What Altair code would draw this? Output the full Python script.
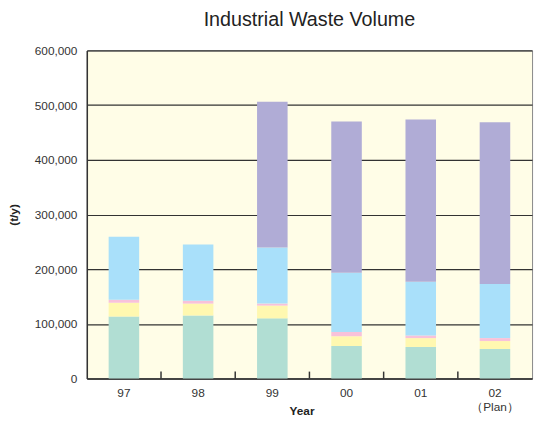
import altair as alt
import pandas as pd

years = ["97", "98", "99", "00", "01", "02"]
categories = ["Cat A", "Cat B", "Cat C", "Cat D", "Cat E"]
colors = ["#B1DED3", "#FFF8B0", "#F8C2DA", "#A9E0FA", "#B0ACD6"]
cat_a = [113500, 115300, 110000, 59500, 57700, 54000]
cat_b = [25200, 21700, 23300, 18000, 16200, 14500]
cat_c = [5300, 5300, 3700, 7700, 4800, 5400]
cat_d = [115500, 102700, 102600, 108100, 98400, 99100]
cat_e = [0, 0, 266700, 277000, 296800, 295500]

series = [cat_a, cat_b, cat_c, cat_d, cat_e]
rows = []
for ci, (cat, vals) in enumerate(zip(categories, series)):
    for y, v in zip(years, vals):
        rows.append({"year": y, "category": cat, "order": ci, "value": v})
df = pd.DataFrame(rows)

xenc = alt.X("year:N", sort=years, scale=alt.Scale(paddingInner=0, paddingOuter=0),
             axis=alt.Axis(title="Year", labelAngle=0, ticks=False, domain=True,
                           domainColor="#333", domainWidth=1.5,
                           labelFont="Liberation Sans", labelFontSize=12, labelColor="#333",
                           labelPadding=9, labelLineHeight=14,
                           labelExpr="datum.label == '02' ? ['02', '（Plan）'] : datum.label",
                           titleFont="Liberation Sans", titleFontSize=12, titleFontWeight="bold",
                           titleColor="#222", titleY=28, titleX=218))

bars = alt.Chart(df).mark_bar(size=31).encode(
    x=xenc,
    y=alt.Y("value:Q", stack="zero", scale=alt.Scale(domain=[0, 600000]),
            axis=alt.Axis(title="(t/y)", format=",.0f", values=[0, 100000, 200000, 300000, 400000, 500000, 600000],
                          ticks=False, domain=True, domainColor="#333", domainWidth=1.5,
                          grid=True, gridColor="#333", gridWidth=1.2,
                          labelFont="Liberation Sans", labelFontSize=12, labelColor="#333",
                          labelPadding=10,
                          titleFont="Liberation Sans", titleFontSize=12, titleFontWeight="bold",
                          titleColor="#222", titlePadding=14)),
    color=alt.Color("category:N", sort=categories,
                    scale=alt.Scale(domain=categories, range=colors), legend=None),
    order=alt.Order("order:Q"),
)

tick_df = pd.DataFrame({"year": years[1:]})
ticks = alt.Chart(tick_df).mark_rule(color="#333", strokeWidth=1.5).encode(
    x=alt.X("year:N", sort=years, bandPosition=0),
    y=alt.value(333),
    y2=alt.value(326),
)

chart = alt.layer(bars, ticks).properties(
    width=452, height=333,
    title=alt.TitleParams("Industrial Waste Volume", font="Liberation Sans", fontSize=20,
                          fontWeight="normal", color="#222", offset=15),
    autosize=alt.AutoSizeParams(type="none"),
    padding={"left": 80, "top": 40, "right": 4, "bottom": 38},
).configure_view(fill="#FFFDE7", stroke="#888", strokeWidth=1)

chart.save("out.html", embed_options={"renderer": "svg", "actions": False})
